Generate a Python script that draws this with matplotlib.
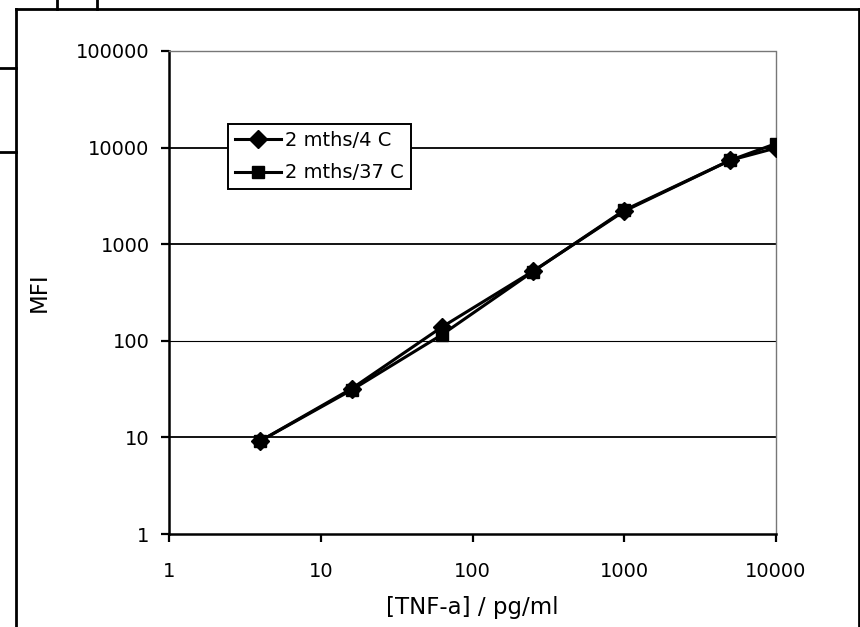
import matplotlib
matplotlib.use("Agg")
import matplotlib.pyplot as plt
from matplotlib.lines import Line2D

plt.rcParams['font.family'] = ['DejaVu Sans']

# TNF-a standard curve, MFI after 2 months storage
conc = [4, 16, 62.5, 250, 1000, 5000, 10000]
mfi_4c = [9.2, 32, 138, 525, 2200, 7400, 9900]
mfi_37c = [9.2, 31, 115, 520, 2250, 7400, 11000]
series_labels = ["2 mths/4 C", "2 mths/37 C"]
x_ticks = [1, 10, 100, 1000, 10000]
y_ticks = [1, 10, 100, 1000, 10000, 100000]

W, H = 860, 627
AX_L, AX_R, AX_T, AX_B = 169, 776, 51, 534
fig = plt.figure(figsize=(W / 100, H / 100), dpi=100)
ax = fig.add_axes([AX_L / W, 1 - AX_B / H, (AX_R - AX_L) / W, (AX_B - AX_T) / H])

ax.set_xscale('log')
ax.set_yscale('log')
ax.set_xlim(x_ticks[0], x_ticks[-1])
ax.set_ylim(y_ticks[0], y_ticks[-1])

# horizontal gridlines at each decade
for yv in y_ticks[1:-1]:
    ax.axhline(yv, color='black', lw=0.8 if yv == 100 else 1.3, zorder=1)

ax.plot(conc, mfi_4c, color='black', lw=2.2, marker='D', markersize=9.5,
        label=series_labels[0], zorder=3)
ax.plot(conc, mfi_37c, color='black', lw=2.2, marker='s', markersize=9,
        label=series_labels[1], zorder=3)

ax.set_xticks(x_ticks)
ax.set_xticklabels([str(v) for v in x_ticks])
ax.set_yticks(y_ticks)
ax.set_yticklabels([str(v) for v in y_ticks])
ax.minorticks_off()
ax.tick_params(axis='both', which='major', direction='out', length=6, width=1.6,
               color='black', labelsize=14)
ax.tick_params(axis='x', pad=14)
ax.tick_params(axis='y', pad=8)

for side in ('left', 'bottom'):
    ax.spines[side].set_linewidth(1.8)
    ax.spines[side].set_color('black')
for side in ('top', 'right'):
    ax.spines[side].set_linewidth(1.0)
    ax.spines[side].set_color('#777777')
    ax.spines[side].set_linestyle((0, (1, 1)))

ax.set_xlabel("[TNF-a] / pg/ml", fontsize=16.5)
ax.xaxis.set_label_coords(0.5, (AX_B - 596) / (AX_B - AX_T))
ax.set_ylabel("MFI", fontsize=16.5)
ax.yaxis.set_label_coords((51 - AX_L) / (AX_R - AX_L), 0.5)

leg = ax.legend(loc='upper left',
                bbox_to_anchor=((228 - AX_L) / (AX_R - AX_L), (AX_B - 124) / (AX_B - AX_T)),
                frameon=True, fancybox=False, fontsize=14, handlelength=2.4,
                handletextpad=0.2, borderpad=0.35, labelspacing=0.7, borderaxespad=0)
leg.get_frame().set_edgecolor('black')
leg.get_frame().set_linewidth(1.4)
leg.get_frame().set_facecolor('white')
leg.get_frame().set_alpha(1)

# outer frame of the chart area
def fline(xs, ys, lw=2.0):
    fig.add_artist(Line2D([x / W for x in xs], [1 - y / H for y in ys],
                          color='black', lw=lw, transform=fig.transFigure))

fline([15.5, 15.5], [9, H + 5])
fline([15.5, 859], [9, 9])
fline([859, 859], [9, H + 5])
fline([57, 57], [-2, 9])
fline([97, 97], [-2, 9])
fline([-2, 15.5], [68, 68])
fline([-2, 15.5], [152, 152])

fig.savefig("out.png", dpi=100)
